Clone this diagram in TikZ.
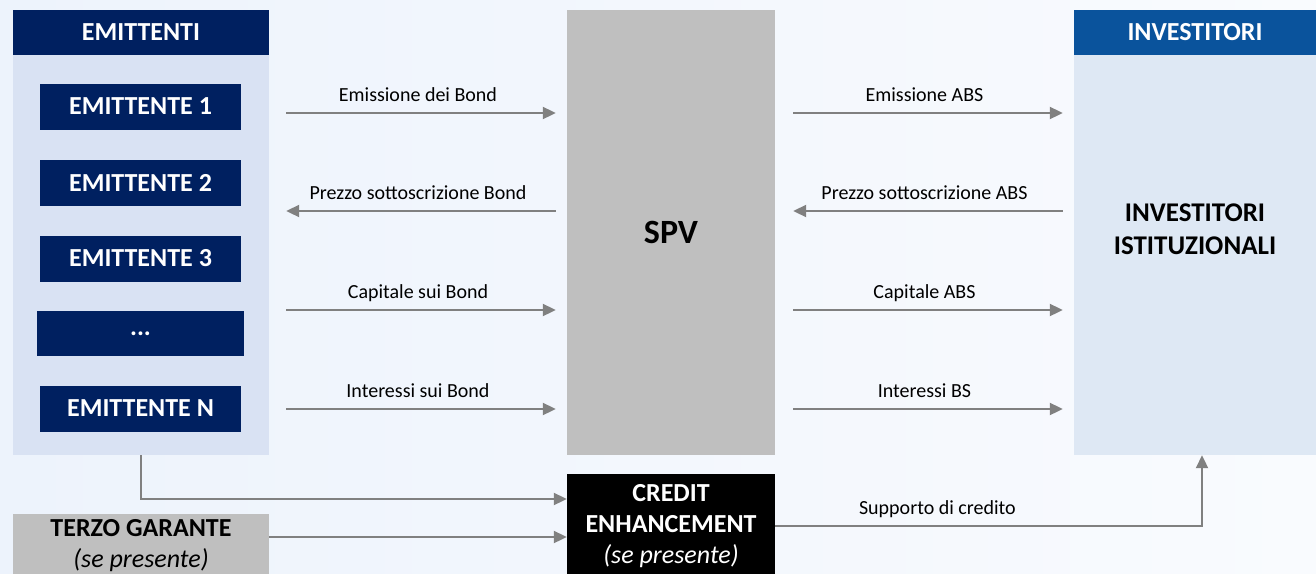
\documentclass[tikz,border=0pt]{standalone}
\usepackage{fontspec}
\setmainfont{Carlito}
\usetikzlibrary{arrows.meta}
\definecolor{navyblue}{HTML}{002060}
\definecolor{invblue}{HTML}{0A539C}
\definecolor{panelleft}{HTML}{D9E2F3}
\definecolor{panelright}{HTML}{DEE8F4}
\definecolor{boxgray}{HTML}{BFBFBF}
\definecolor{arrowgray}{HTML}{808080}
\definecolor{bgleft}{HTML}{EDF3FC}
\definecolor{bgright}{HTML}{F9FBFE}

\begin{document}
\begin{tikzpicture}[x=1pt,y=-1pt,
	box/.style={rectangle,inner sep=0,align=center,font=\bfseries\fontsize{26}{31}\selectfont},
	emitbox/.style={box,fill=navyblue,text=white,minimum width=201pt,minimum height=46pt},
	flow/.style={draw=arrowgray,line width=2pt,-{Triangle[length=13pt,width=12pt]}},
	lab/.style={above=11pt,inner sep=0,text depth=0pt,font=\fontsize{20}{24}\selectfont}]
\useasboundingbox (0,0) rectangle (1316,573);
\shade [left color=bgleft,right color=bgright] (0,0) rectangle (1316,573);

\node [box,fill=navyblue,text=white,minimum width=256pt,minimum height=45pt] (emithead) at (141,32.5) {EMITTENTI};
\node [fill=panelleft,inner sep=0,minimum width=256pt,minimum height=400pt] (emitpanel) at (141,255) {};
\node [emitbox] (e1) at (140.5,106.5) {EMITTENTE 1};
\node [emitbox] (e2) at (140.5,183) {EMITTENTE 2};
\node [emitbox] (e3) at (140.5,258.5) {EMITTENTE 3};
\node [emitbox,minimum width=207pt,minimum height=45pt] (edots) at (140.5,333.5) {...};
\node [emitbox] (en) at (140.5,408.5) {EMITTENTE N};

\node [box,fill=boxgray,minimum width=208pt,minimum height=445pt,font=\bfseries\fontsize{34}{40}\selectfont] (spv) at (671,232.5) {SPV};

\node [box,fill=invblue,text=white,minimum width=242pt,minimum height=45pt] (invhead) at (1195,32.5) {INVESTITORI};
\node [fill=panelright,inner sep=0,minimum width=242pt,minimum height=400pt] (invpanel) at (1195,255) {};
\node [box,font=\bfseries\fontsize{27}{33}\selectfont] (invtext) at (1195,229) {INVESTITORI\\ISTITUZIONALI};

\node [box,fill=boxgray,minimum width=256pt,minimum height=64pt] (terzo) at (141,546) {TERZO GARANTE\\\textit{\mdseries (se presente)}};
\node [box,fill=black,text=white,minimum width=208pt,minimum height=104pt] (credit) at (671,526) {CREDIT\\ENHANCEMENT\\\textit{\mdseries (se presente)}};

\coordinate (r1) at (0,113);
\coordinate (r2) at (0,211);
\coordinate (r3) at (0,310);
\coordinate (r4) at (0,409);

\draw [flow,shorten <=17pt,shorten >=11pt] (emitpanel.east |- r1) -- (spv.west |- r1) node [lab,midway] {Emissione dei Bond};
\draw [flow,shorten <=11pt,shorten >=17pt] (spv.west |- r2) -- (emitpanel.east |- r2) node [lab,midway] {Prezzo sottoscrizione Bond};
\draw [flow,shorten <=17pt,shorten >=11pt] (emitpanel.east |- r3) -- (spv.west |- r3) node [lab,midway] {Capitale sui Bond};
\draw [flow,shorten <=17pt,shorten >=11pt] (emitpanel.east |- r4) -- (spv.west |- r4) node [lab,midway] {Interessi sui Bond};

\draw [flow,shorten <=18pt,shorten >=11pt] (spv.east |- r1) -- (invpanel.west |- r1) node [lab,midway] {Emissione ABS};
\draw [flow,shorten <=11pt,shorten >=18pt] (invpanel.west |- r2) -- (spv.east |- r2) node [lab,midway] {Prezzo sottoscrizione ABS};
\draw [flow,shorten <=18pt,shorten >=11pt] (spv.east |- r3) -- (invpanel.west |- r3) node [lab,midway] {Capitale ABS};
\draw [flow,shorten <=18pt,shorten >=11pt] (spv.east |- r4) -- (invpanel.west |- r4) node [lab,midway] {Interessi BS};

\coordinate (ebend) at (141,499);
\coordinate (tline) at (0,537);
\coordinate (sbend) at (1202,526);
\draw [flow] (emitpanel.south -| ebend) -- (ebend) -- (credit.west |- ebend);
\draw [flow] (terzo.east |- tline) -- (credit.west |- tline);
\draw [flow] (credit.east |- sbend) -- (sbend) node [lab,pos=0.38] {Supporto di credito} -- (invpanel.south -| sbend);
\end{tikzpicture}
\end{document}
